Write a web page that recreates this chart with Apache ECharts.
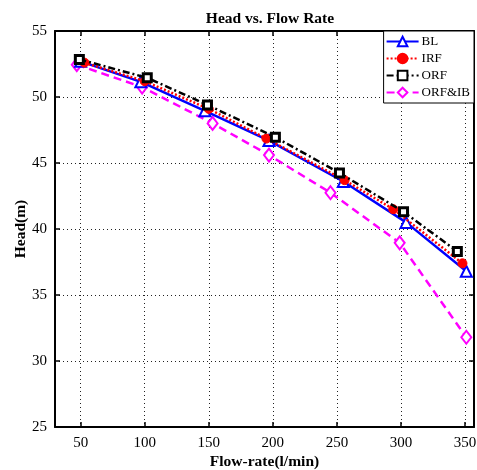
<!DOCTYPE html>
<html><head><meta charset="utf-8">
<script src="https://cdn.jsdelivr.net/npm/echarts@6/dist/echarts.min.js"></script>
<style>html,body{margin:0;padding:0;background:#fff}#c{width:477px;height:470px}</style>
</head><body><div id="c"></div>
<script>
const seriesNames = ['BL','IRF','ORF','ORF&IB'];
const blData = [[50,52.7],[97,51.15],[147,48.95],[197,46.7],[255,43.6],[304,40.5],[351,36.8]];
const irfData = [[53,52.6],[100,51.2],[150,49.1],[195,46.85],[256,43.7],[294,41.5],[348,37.4]];
const orfData = [[49,52.85],[102,51.45],[149,49.4],[202,46.95],[252,44.25],[302,41.3],[344,38.3]];
const orfibData = [[47,52.45],[98,50.75],[153,48.0],[197,45.6],[245,42.75],[299,38.95],[351,31.8]];
const xTicks = [50,100,150,200,250,300,350];
const yTicks = [25,30,35,40,45,50,55];

const FONT = '"Liberation Serif","Times New Roman",serif';
const chart = echarts.init(document.getElementById('c'), null, {renderer:'canvas'});
const axisLine = {show:true,onZero:false,lineStyle:{color:'#000',width:2}};
const tickStyle = {show:true,inside:true,length:5,lineStyle:{color:'#000',width:1.5}};
chart.setOption({
  animation:false,
  backgroundColor:'#fff',
  title:{text:'Head vs. Flow Rate',top:6,left:265,textAlign:'center',
    textStyle:{fontFamily:FONT,fontWeight:'bold',fontSize:15.5,color:'#000'}},
  grid:{left:55,top:31,right:3,bottom:43,containLabel:false,outerBoundsMode:'none'},
  legend:{
    data:seriesNames, orient:'vertical', right:3, top:31,
    backgroundColor:'#fff', borderColor:'#000', borderWidth:1,
    padding:[4,4,4,2], itemGap:4, itemWidth:32, itemHeight:12,
    textStyle:{fontFamily:FONT,fontSize:13,color:'#000',padding:[0,0,0,-2]}
  },
  xAxis:[
    {type:'value',min:30,max:357,position:'bottom',
      name:'Flow-rate(l/min)',nameLocation:'middle',nameGap:27,nameMoveOverlap:false,
      nameTextStyle:{fontFamily:FONT,fontWeight:'bold',fontSize:15.5,color:'#000'},
      axisLine:axisLine,
      axisLabel:{fontFamily:FONT,fontSize:15,color:'#000',margin:9,customValues:xTicks},
      axisTick:Object.assign({customValues:xTicks},tickStyle),
      splitLine:{show:true,lineStyle:{color:'#222',type:[1,3],width:1}}
    },
    {type:'value',min:30,max:357,position:'top',axisLine:axisLine,
      axisTick:Object.assign({customValues:xTicks},tickStyle),
      axisLabel:{show:false},splitLine:{show:false}}
  ],
  yAxis:[
    {type:'value',min:25,max:55,interval:5,position:'left',
      name:'Head(m)',nameLocation:'middle',nameGap:26,nameMoveOverlap:false,
      nameTextStyle:{fontFamily:FONT,fontWeight:'bold',fontSize:15.5,color:'#000'},
      axisLine:axisLine, axisTick:tickStyle,
      axisLabel:{fontFamily:FONT,fontSize:15,color:'#000',margin:8},
      splitLine:{show:true,lineStyle:{color:'#222',type:[1,3],width:1}}},
    {type:'value',min:25,max:55,interval:5,position:'right',
      axisLine:axisLine, axisTick:tickStyle,
      axisLabel:{show:false},splitLine:{show:false}}
  ],
  series:[
    {name:'BL',type:'line',data:blData,symbol:'triangle',symbolSize:11,
      lineStyle:{color:'#0000ff',width:2.5,type:'solid'},
      itemStyle:{color:'#fff',borderColor:'#0000ff',borderWidth:2},z:3},
    {name:'IRF',type:'line',data:irfData,symbol:'circle',symbolSize:9,
      lineStyle:{color:'#ff0000',width:2.5,type:[2,2]},
      itemStyle:{color:'#ff0000',borderColor:'#ff0000',borderWidth:1},z:4},
    {name:'ORF',type:'line',data:orfData,symbol:'rect',symbolSize:8,
      lineStyle:{color:'#000',width:2.5,type:[7,3,2,3]},
      itemStyle:{color:'#fff',borderColor:'#000',borderWidth:3},z:5},
    {name:'ORF&IB',type:'line',data:orfibData,symbol:'diamond',symbolSize:[10,13],
      lineStyle:{color:'#ff00ff',width:2.5,type:[8,5]},
      itemStyle:{color:'#fff',borderColor:'#ff00ff',borderWidth:2},z:2}
  ]
});
</script></body></html>
